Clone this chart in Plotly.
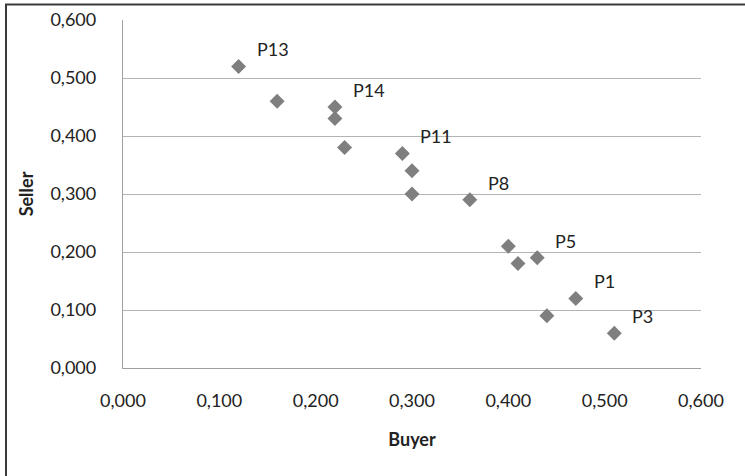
import plotly.graph_objects as go

buyer = [0.12, 0.16, 0.22, 0.22, 0.23, 0.29, 0.30, 0.30, 0.36, 0.40, 0.41, 0.43, 0.47, 0.44, 0.51]
seller = [0.52, 0.46, 0.45, 0.43, 0.38, 0.37, 0.34, 0.30, 0.29, 0.21, 0.18, 0.19, 0.12, 0.09, 0.06]
labels = ["P13", "", "P14", "", "", "P11", "", "", "P8", "", "", "P5", "P1", "", "P3"]
tick_vals = [0, 0.1, 0.2, 0.3, 0.4, 0.5, 0.6]
tick_text = ["0,000", "0,100", "0,200", "0,300", "0,400", "0,500", "0,600"]

FONT = "Lato, Open Sans, sans-serif"

fig = go.Figure()
fig.add_trace(go.Scatter(
    x=buyer, y=seller, mode="markers",
    marker=dict(symbol="diamond", size=11.5, color="#7f7f7f"),
    hoverinfo="skip", showlegend=False,
))

for xv, yv, lab in zip(buyer, seller, labels):
    if lab:
        fig.add_annotation(x=xv, y=yv, text=lab, showarrow=False,
                           xanchor="left", yanchor="middle",
                           xshift=16, yshift=17,
                           font=dict(family=FONT, size=18, color="#222222"))

fig.add_shape(type="rect", xref="paper", yref="paper",
              x0=-117/578, x1=1.5, y0=-1.0, y1=1 + 15.5/348,
              line=dict(color="#3a3a3a", width=2), layer="above")

fig.update_layout(
    width=745, height=476,
    margin=dict(l=123, r=44, t=20, b=108),
    paper_bgcolor="white", plot_bgcolor="white",
    font=dict(family=FONT, size=18, color="#222222"),
    xaxis=dict(range=[0, 0.6], tickvals=tick_vals, ticktext=tick_text,
               showgrid=False, zeroline=False, showline=True, automargin=False,
               linecolor="#a0a0a0", linewidth=1.3, ticks="", ticklabelstandoff=16,
               title=dict(text="<b>Buyer</b>", font=dict(size=18, family=FONT), standoff=23)),
    yaxis=dict(range=[0, 0.6], tickvals=tick_vals, ticktext=tick_text,
               showgrid=True, gridcolor="#b3b3b3", gridwidth=1.3, automargin=False,
               zeroline=False, showline=True, linecolor="#a0a0a0", linewidth=1.3,
               ticks="", ticklabelstandoff=22,
               title=dict(text="<b>Seller</b>", font=dict(size=18, family=FONT), standoff=12)),
)

fig.write_html("out.html", config={"displayModeBar": False},
               post_script="document.body.style.margin='0px';")
